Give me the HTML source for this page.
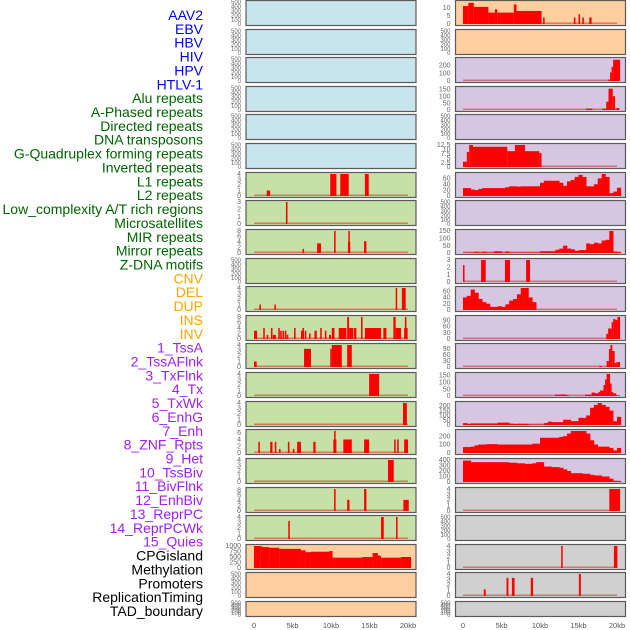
<!DOCTYPE html>
<html><head><meta charset="utf-8"><style>
html,body{margin:0;padding:0;background:#fff;}
svg{display:block;font-family:"Liberation Sans",sans-serif;}
</style></head><body>
<svg id="chart" width="630" height="630" viewBox="0 0 630 630"></svg>
<script>
const labels=["AAV2","EBV","HBV","HIV","HPV","HTLV-1","Alu repeats","A-Phased repeats","Directed repeats","DNA transposons","G-Quadruplex forming repeats","Inverted repeats","L1 repeats","L2 repeats","Low_complexity A/T rich regions","Microsatellites","MIR repeats","Mirror repeats","Z-DNA motifs","CNV","DEL","DUP","INS","INV","1_TssA","2_TssAFlnk","3_TxFlnk","4_Tx","5_TxWk","6_EnhG","7_Enh","8_ZNF_Rpts","9_Het","10_TssBiv","11_BivFlnk","12_EnhBiv","13_ReprPC","14_ReprPCWk","15_Quies","CPGisland","Methylation","Promoters","ReplicationTiming","TAD_boundary"];
const labelColors=[...Array(6).fill("#0000ff"),...Array(13).fill("#006400"),...Array(5).fill("#ffa500"),...Array(15).fill("#a020f0"),...Array(5).fill("#000000")];
const xTicks=[0,5,10,15,20];
const xTickLabels=["0","5kb","10kb","15kb","20kb"];
// segment data: [startKb,endKb,value]
const L6=[[1.65,2.1,1],[9.9,10.7,4],[11.2,12.3,4],[14.4,14.9,4]];
const L7=[[4.15,4.35,3]];
const L8=[[6.3,6.5,1.5],[8.2,8.7,3.5],[10.4,10.6,8],[12.2,12.5,4],[12.25,12.4,8],[14.3,14.6,4.3]];
const L10=[[0.7,0.9,1],[2.65,2.8,1],[18.4,18.6,4],[19.2,19.7,4]];
const L11=[[0,0.4,3],[1.2,1.4,4],[1.65,1.85,1.5],[2.2,2.4,4],[2.45,2.85,1.5],[3.15,3.35,4],[3.4,3.6,3],[3.7,3.9,3],[4.0,4.2,3],[4.25,4.45,1.5],[5.2,5.4,4],[6.1,6.3,3],[6.3,6.5,4],[6.6,6.8,3],[7.15,7.35,2],[7.85,8.15,3],[8.6,8.8,4],[9.2,9.4,3],[9.75,10,1.5],[10.1,10.45,4],[11.0,12.0,4],[12.1,12.35,8],[12.35,12.9,4],[13.0,13.3,4],[13.9,14.1,8],[14.4,16.5,4],[16.8,17.2,4],[18.1,18.4,8],[18.4,19.1,4],[19.5,19.95,4],[19.6,19.8,8]];
const L12=[[0,0.35,1],[6.5,7.4,3.3],[9.9,10.1,3.3],[10.1,11.4,4],[12.1,12.7,4]];
const L13=[[14.95,16.25,4]];
const L14=[[19.35,19.85,4]];
const L15=[[0.56,0.76,3.3],[2.1,2.4,3.3],[2.7,2.9,3.3],[3.25,3.45,1.2],[4.4,4.6,3.3],[5.05,5.25,1.2],[5.6,6.1,3.3],[7.7,8.0,3.3],[10.3,10.7,4],[10.4,10.6,6.5],[11.6,12.7,4],[14.3,14.95,4],[18.2,18.4,4],[18.6,18.8,4],[19.5,20.0,4]];
const L16=[[17.4,18.15,4]];
const L17=[[10.4,10.6,8.5],[12.1,12.4,4.3],[14.3,14.6,8.5],[19.4,20.1,4.3]];
const L18=[[4.45,4.65,3.3],[16.5,16.85,4],[18.45,18.65,4]];
const L19=[[0,0.87,1000],[0.87,1.1,980],[1.1,1.96,950],[1.96,3.26,920],[3.26,6.1,870],[6.1,6.7,800],[6.7,7.4,720],[7.4,9.8,740],[9.8,10.2,770],[10.2,14.1,470],[14.1,15.4,500],[15.4,16.1,680],[16.1,16.5,560],[16.5,19.1,470],[19.1,20.4,500]];
const R0=[[0,0.7,11],[0.7,1.4,13],[1.4,3.3,10.5],[3.3,4.15,7],[4.15,4.45,9],[4.45,6.6,7],[6.6,6.95,12],[6.95,10.2,8],[10.4,10.6,4],[14.4,14.6,4],[15.0,15.2,6],[15.5,15.7,4],[16.4,16.7,4]];
const R2=[[18.9,19.1,20],[19.1,19.3,110],[19.3,19.5,180],[19.5,20.4,270]];
const R3=[[16,16.8,10],[18.1,18.6,10],[18.6,18.9,60],[18.9,19.45,155],[19.45,19.75,100],[19.75,19.95,5],[19.95,20.3,15]];
const R5=[[0,0.5,3],[0.5,0.8,8.5],[0.8,1.3,12.5],[1.3,5.75,11.5],[5.75,6.75,9],[6.75,8.05,12.5],[8.05,9.9,9],[9.9,10.2,8]];
const R9=[[0,0.2,2.3],[2.35,2.95,3],[5.45,6.1,3],[8.2,8.7,3]];
const R11=[[18.6,18.85,25],[18.85,19.3,50],[19.3,19.5,80],[19.5,19.8,95],[19.8,20.05,90],[20.05,20.4,105]];
const R12=[[17.7,18,5],[18.65,18.95,30],[18.95,19.15,90],[19.15,19.4,110],[19.4,19.7,80],[19.7,19.95,20],[19.95,20.4,25]];
const R13=[[11.95,12.8,10],[12.8,13.25,12],[13.25,13.7,8],[15.85,16.7,10],[16.7,17.15,25],[17.15,17.6,20],[17.6,17.8,30],[17.8,18.25,40],[18.25,18.45,80],[18.45,18.65,120],[18.65,19.1,160],[19.1,19.3,90],[19.3,19.5,30],[19.5,19.9,20],[19.9,20.4,5]];
const R17=[[19,20.4,4]];
const R19=[[12.75,12.95,4],[19.6,20.05,4]];
const R20=[[2.7,2.95,1.2],[5.65,5.9,3.3],[6.35,6.7,3.3],[8.8,9.1,3.3],[15.05,15.3,4]];
// binned data (0.5kb bins starting at 0)
const R6=[27,27,22,20,24,27,27,27,27,27,27,30,33,33,32,33,33,33,33,33,45,52,52,52,52,45,35,50,55,65,72,65,33,33,40,60,75,65,10,15,28];
const R8=[3,3,3,8,3,8,3,3,12,12,3,10,3,3,3,3,3,3,3,3,12,12,12,12,22,30,50,30,25,15,20,20,65,60,70,65,85,90,150,10,8];
const R10=[40,45,65,55,35,25,20,10,10,12,10,18,30,35,50,70,70,40,25];
const R14=[20,12,17,17,17,17,17,17,17,25,25,25,15,10,12,12,12,5,5,5,5,20,35,30,30,30,55,55,40,40,75,75,100,180,210,230,210,190,150,40,85];
const R15=[70,70,75,90,100,100,105,105,105,100,100,100,100,100,100,100,100,100,110,110,180,180,180,180,180,190,200,230,260,260,260,260,230,150,100,75,75,75,60,30,60];
const R16=[390,390,360,360,360,360,360,360,360,360,360,360,350,350,340,340,330,330,340,360,360,280,280,270,270,260,230,200,160,160,160,150,150,130,120,120,100,100,60,20,20];
const EMPTY=[0,100,200,300,400,500];
const BG={b:"#c8e4ec",g:"#c6e0a6",o:"#ffcf9f",p:"#d6c6e2",k:"#d0d0d0"};
// panels: [col,row,bg,ticks,ymax,segs,bins,name]
const panels=[
[0,0,"b",EMPTY,500,null,null],[0,1,"b",EMPTY,500,null,null],[0,2,"b",EMPTY,500,null,null],[0,3,"b",EMPTY,500,null,null],[0,4,"b",EMPTY,500,null,null],[0,5,"b",EMPTY,500,null,null],
[0,6,"g",[0,1,2,3,4],4,L6,null],[0,7,"g",[0,1,2,3],3,L7,null],[0,8,"g",[0,2,4,6,8],8,L8,null],[0,9,"g",EMPTY,500,null,null],
[0,10,"g",[0,1,2,3,4],4,L10,null],[0,11,"g",[0,2,4,6,8],8,L11,null],[0,12,"g",[0,1,2,3,4],4,L12,null],[0,13,"g",[0,1,2,3,4],4,L13,null],
[0,14,"g",[0,1,2,3,4],4,L14,null],[0,15,"g",[0,2,4,6],6.5,L15,null],[0,16,"g",[0,1,2,3,4],4,L16,null],[0,17,"g",[0,2,4,6,8],8.5,L17,null],
[0,18,"g",[0,1,2,3,4],4,L18,null],[0,19,"o",[0,250,500,750,1000],1000,L19,null],[0,20,"o",EMPTY,500,null,null],[0,21,"o",EMPTY,500,null,null],
[1,0,"o",[0,5,10],13.5,R0,null],[1,1,"o",EMPTY,500,null,null],[1,2,"p",[0,100,200],280,R2,null],[1,3,"p",[0,50,100,150],160,R3,null],
[1,4,"p",EMPTY,500,null,null],[1,5,"p",[0,2.5,5,7.5,10,12.5],12.5,R5,null],[1,6,"p",[0,20,40,60],75,null,R6],[1,7,"p",EMPTY,500,null,null],
[1,8,"p",[0,50,100,150],150,null,R8],[1,9,"p",[0,1,2,3],3,R9,null],[1,10,"p",[0,20,40,60],70,null,R10],[1,11,"p",[0,30,60,90],105,R11,null],
[1,12,"p",[0,30,60,90],110,R12,null],[1,13,"p",[0,50,100,150],160,R13,null],[1,14,"p",[0,50,100,150,200],230,null,R14],[1,15,"p",[0,100,200],260,null,R15],
[1,16,"p",[0,100,200,300,400],400,null,R16],[1,17,"k",[0,1,2,3,4],4,R17,null],[1,18,"k",EMPTY,500,null,null],[1,19,"k",[0,1,2,3,4],4,R19,null],
[1,20,"k",[0,1,2,3,4],4,R20,null],[1,21,"k",EMPTY,500,null,null]];
const NS="http://www.w3.org/2000/svg";
const svg=document.getElementById("chart");
function mk(t,a,p){const e=document.createElementNS(NS,t);for(const k in a)e.setAttribute(k,a[k]);(p||svg).appendChild(e);return e;}
function xs(col,kb){return 254+col*209+kb*7.7;}
function fmt(v){return String(v);}
// labels
labels.forEach((l,i)=>{
  const t=mk("text",{x:203,y:15+i*13.86+5,"text-anchor":"end","font-size":"14",fill:labelColors[i]});
  t.textContent=l;
  
  
});
panels.forEach(p=>{
  const [col,row,bg,ticks,ymax,segs,bins]=p;
  const top=Math.round(row*28.62)+0.5, h=(row===21?15:25);
  const left=246+col*209.5, w=170;
  const g=mk("g",{});
  
  
  mk("rect",{x:left,y:top,width:w,height:h,fill:BG[bg],stroke:"#5a5a5a","stroke-width":1.2},g);
  const bot=top+h-1.5, ih=h-3;
  const ys=v=>bot-v/ymax*ih;
  ticks.forEach(tv=>{
    const t=mk("text",{x:left-5,y:ys(tv)+2.2,"text-anchor":"end","font-size":ticks===EMPTY?"6":"7",fill:"#666"},g);
    t.textContent=fmt(tv);
    
    
  });
  if(segs||bins){
    mk("rect",{x:xs(col,0),y:bot-1.5,width:xs(col,20)-xs(col,0),height:1.5,fill:"rgba(220,0,0,0.45)"},g);
  }
  if(segs){segs.forEach(s=>{
    const x0=xs(col,s[0]),x1=xs(col,s[1]);
    const r=mk("rect",{x:x0,y:ys(s[2]),width:Math.max(1.5,x1-x0),height:bot-ys(s[2]),fill:"#ff0000"},g);
    
    
  });}
  if(bins){bins.forEach((v,i)=>{
    if(v<=0)return;
    const x0=xs(col,i*0.5),x1=xs(col,i*0.5+0.5);
    const r=mk("rect",{x:x0,y:ys(v),width:x1-x0+0.3,height:bot-ys(v),fill:"#ff0000"},g);
    
    
  });}
});
[0,1].forEach(col=>{
  xTicks.forEach((k,i)=>{
    const t=mk("text",{x:xs(col,k),y:628,"text-anchor":"middle","font-size":"7.5",fill:"#555"});
    t.textContent=xTickLabels[i];
    
    
  });
});
</script>
</body></html>
